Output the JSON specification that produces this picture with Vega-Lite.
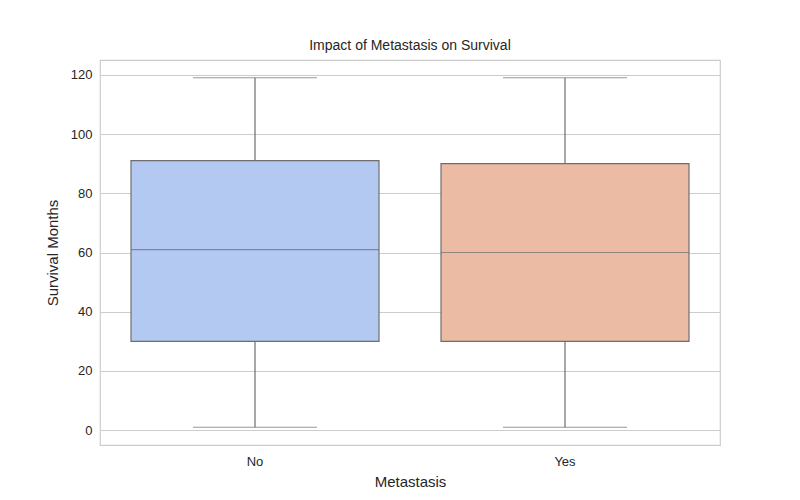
{
  "$schema": "https://vega.github.io/schema/vega-lite/v6.json",
  "width": 620,
  "height": 385,
  "autosize": {"type": "none"},
  "padding": {"left": 100, "top": 60, "right": 80, "bottom": 55},
  "background": "white",
  "config": {
    "font": "Liberation Sans",
    "view": {"stroke": "#cccccc", "strokeWidth": 1.2},
    "axis": {"labelFontSize": 13, "titleFontSize": 15, "titleFontWeight": "normal", "labelColor": "#262626", "titleColor": "#262626", "ticks": false, "domain": false}
  },
  "title": {"text": "Impact of Metastasis on Survival", "fontSize": 14, "fontWeight": "normal", "color": "#262626", "offset": 7},
  "data": {
    "values": [
      {"Metastasis": "No", "lo": 1, "q1": 30, "median": 61, "q3": 91, "hi": 119},
      {"Metastasis": "Yes", "lo": 1, "q1": 30, "median": 60, "q3": 90, "hi": 119}
    ]
  },
  "encoding": {
    "x": {"field": "Metastasis", "type": "nominal", "sort": ["No", "Yes"], "scale": {"paddingInner": 0, "paddingOuter": 0}, "axis": {"labelAngle": 0, "grid": false, "labelPadding": 10, "titlePadding": 6}, "title": "Metastasis"}
  },
  "layer": [
    {
      "mark": {"type": "rule", "color": "#6e6e6e", "strokeWidth": 1.2},
      "encoding": {
        "y": {"field": "lo", "type": "quantitative", "scale": {"domain": [-5, 125], "nice": false, "zero": false}, "axis": {"values": [0, 20, 40, 60, 80, 100, 120], "gridColor": "#cccccc", "gridWidth": 1.2, "labelPadding": 8, "titlePadding": 10}, "title": "Survival Months"},
        "y2": {"field": "hi"}
      }
    },
    {
      "mark": {"type": "bar", "width": {"band": 0.8}, "stroke": "#6e6e6e", "strokeWidth": 1.2},
      "encoding": {
        "y": {"field": "q1", "type": "quantitative"},
        "y2": {"field": "q3"},
        "color": {"field": "Metastasis", "type": "nominal", "scale": {"range": ["#b3c9f2", "#ecbba4"]}, "legend": null}
      }
    },
    {
      "mark": {"type": "tick", "color": "#6e6e6e", "size": 248, "thickness": 1.2},
      "encoding": {"y": {"field": "median", "type": "quantitative"}}
    },
    {
      "mark": {"type": "tick", "color": "#6e6e6e", "size": 124, "thickness": 1.2},
      "encoding": {"y": {"field": "lo", "type": "quantitative"}}
    },
    {
      "mark": {"type": "tick", "color": "#6e6e6e", "size": 124, "thickness": 1.2},
      "encoding": {"y": {"field": "hi", "type": "quantitative"}}
    }
  ]
}
